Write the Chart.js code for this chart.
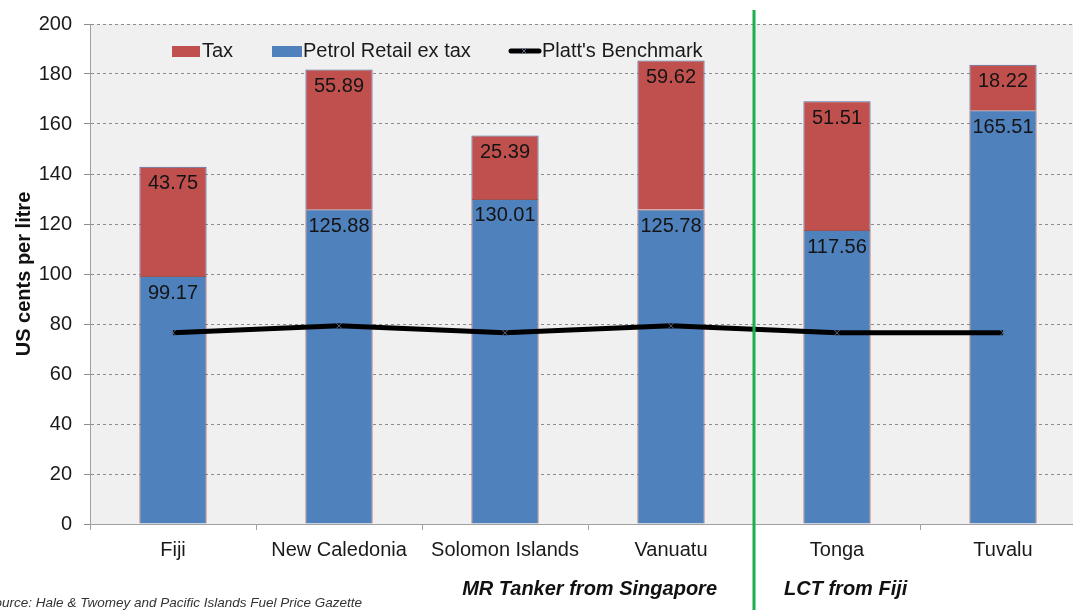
<!DOCTYPE html>
<html>
<head>
<meta charset="utf-8">
<script src="https://cdn.jsdelivr.net/npm/chart.js@4.4.1/dist/chart.umd.min.js"></script>
<style>
    html, body { margin: 0; background: #fff; overflow: hidden; }
    canvas { display: block; }
</style>
</head>
<body>
<!-- the original plot runs off the right edge of the picture, so the canvas is a bit wider than the window -->
<canvas id="fuelChart" width="1091" height="610"></canvas>
<script>
// values (US cents per litre)
const countries = ['Fiji', 'New Caledonia', 'Solomon Islands', 'Vanuatu', 'Tonga', 'Tuvalu'];
const retailExTax = [99.17, 125.88, 130.01, 125.78, 117.56, 165.51];
const tax = [43.75, 55.89, 25.39, 59.62, 51.51, 18.22];
const platts = [76.5, 79.3, 76.5, 79.3, 76.5, 76.5];

const seriesNames = ['Tax', 'Petrol Retail ex tax', "Platt's Benchmark"];
const routeLeft = 'MR Tanker from Singapore';
const routeRight = 'LCT from Fiji';
const sourceNote = 'Source: Hale & Twomey and Pacific Islands Fuel Price Gazette';

const RED = '#c0504d';
const BLUE = '#4f81bd';
const FONT = '"Liberation Sans", Arial, sans-serif';

//draws the things the chart library doesn't give us: plot background, value labels,
//the green divider, the legend inside the plot, and the notes under the axis
const extras = {
    id: 'extras',
    beforeDraw(chart) {
        const { ctx, chartArea: a } = chart;
        ctx.save();
        ctx.fillStyle = '#ffffff';
        ctx.fillRect(0, 0, chart.width, chart.height);
        ctx.fillStyle = '#f0f0f0';
        ctx.fillRect(a.left, a.top, a.right - a.left, a.bottom - a.top);
        ctx.restore();
    },
    afterDatasetsDraw(chart) {
        const ctx = chart.ctx;
        ctx.save();
        ctx.font = '20px ' + FONT;
        ctx.fillStyle = '#141414';
        ctx.textAlign = 'center';
        ctx.textBaseline = 'top';
        [0, 1].forEach(i => {
            const meta = chart.getDatasetMeta(i);
            const values = chart.data.datasets[i].data;
            meta.data.forEach((bar, j) => {
                ctx.fillText(values[j].toFixed(2), bar.x, bar.y + 7);
            });
        });
        ctx.restore();
    },
    afterDraw(chart) {
        const { ctx, scales } = chart;
        const x = scales.x;
        const divX = (x.getPixelForValue(3) + x.getPixelForValue(4)) / 2;

        ctx.save();
        // green divider between the two supply routes
        ctx.strokeStyle = '#1fae4b';
        ctx.lineWidth = 3;
        ctx.beginPath();
        ctx.moveTo(divX, 10);
        ctx.lineTo(divX, chart.height);
        ctx.stroke();

        // legend
        ctx.font = '20px ' + FONT;
        ctx.textBaseline = 'middle';
        ctx.textAlign = 'left';
        const ly = 51;
        let lx = 172;
        ctx.fillStyle = RED;
        ctx.fillRect(lx, ly - 5, 28, 11);
        ctx.fillStyle = '#1a1a1a';
        ctx.fillText(seriesNames[0], lx + 30, ly);
        lx = 272;
        ctx.fillStyle = BLUE;
        ctx.fillRect(lx, ly - 5, 30, 11);
        ctx.fillStyle = '#1a1a1a';
        ctx.fillText(seriesNames[1], lx + 31, ly);
        lx = 509;
        ctx.strokeStyle = '#000';
        ctx.lineWidth = 5;
        ctx.lineCap = 'round';
        ctx.beginPath();
        ctx.moveTo(lx + 2, ly);
        ctx.lineTo(lx + 30, ly);
        ctx.stroke();
        ctx.strokeStyle = '#5a6a8a';
        ctx.lineWidth = 1;
        ctx.lineCap = 'butt';
        ctx.beginPath();
        ctx.moveTo(lx + 12, ly - 3); ctx.lineTo(lx + 18, ly + 3);
        ctx.moveTo(lx + 18, ly - 3); ctx.lineTo(lx + 12, ly + 3);
        ctx.stroke();
        ctx.fillStyle = '#1a1a1a';
        ctx.fillText(seriesNames[2], lx + 33, ly);

        // route notes under the axis
        ctx.font = 'italic bold 20px ' + FONT;
        ctx.fillStyle = '#111';
        ctx.textAlign = 'right';
        ctx.fillText(routeLeft, divX - 37, 589);
        ctx.textAlign = 'left';
        ctx.fillText(routeRight, divX + 30, 589);

        // source, clipped at the left edge as in the original
        ctx.font = 'italic 13.5px ' + FONT;
        ctx.fillStyle = '#333';
        ctx.textAlign = 'right';
        ctx.fillText(sourceNote, 362, 603);
        ctx.restore();
    }
};

const chart = new Chart(document.getElementById('fuelChart'), {
    type: 'bar',
    data: {
        labels: countries,
        datasets: [
            {
                label: seriesNames[1],
                data: retailExTax,
                backgroundColor: BLUE,
                borderColor: '#a0524e',
                borderWidth: 1,
                stack: 'fuel',
                order: 1
            },
            {
                label: seriesNames[0],
                data: tax,
                backgroundColor: RED,
                borderColor: '#4a68a0',
                borderWidth: 1,
                stack: 'fuel',
                order: 1
            },
            {
                type: 'line',
                label: seriesNames[2],
                data: platts,
                borderColor: '#000',
                borderWidth: 5,
                pointStyle: 'crossRot',
                pointRadius: 4,
                pointBorderColor: '#5a6a8a',
                pointBorderWidth: 1,
                stack: 'bench',
                order: 0
            }
        ]
    },
    options: {
        responsive: false,
        animation: false,
        devicePixelRatio: 1,
        layout: { padding: { top: 24, right: 0, bottom: 0, left: 0 } },
        datasets: {
            bar: { categoryPercentage: 1, barPercentage: 0.405 }
        },
        plugins: {
            legend: { display: false },
            tooltip: { enabled: false }
        },
        scales: {
            x: {
                stacked: true,
                afterFit(scale) {
                    scale.height = 86;
                    scale.paddingLeft = 0;
                    scale.paddingRight = 0;
                },
                grid: {
                    display: true,
                    drawOnChartArea: false,
                    offset: true,
                    tickLength: 6,
                    color: '#a0a0a0'
                },
                border: { color: '#a0a0a0' },
                ticks: {
                    color: '#1a1a1a',
                    font: { family: FONT, size: 20 },
                    padding: 8
                }
            },
            y: {
                stacked: true,
                min: 0,
                max: 200,
                afterFit(scale) { scale.width = 90; },
                grid: {
                    color: '#8c8c8c',
                    tickLength: 6,
                    tickBorderDash: [0, 0]
                },
                border: { color: '#a0a0a0', dash: [3, 3] },
                ticks: {
                    stepSize: 20,
                    color: '#1a1a1a',
                    font: { family: FONT, size: 20 },
                    padding: 12
                },
                title: {
                    display: true,
                    text: 'US cents per litre',
                    color: '#111',
                    font: { family: FONT, size: 20, weight: 'bold' },
                    padding: { top: 12, bottom: 4 }
                }
            }
        }
    },
    plugins: [extras]
});
</script>
</body>
</html>
